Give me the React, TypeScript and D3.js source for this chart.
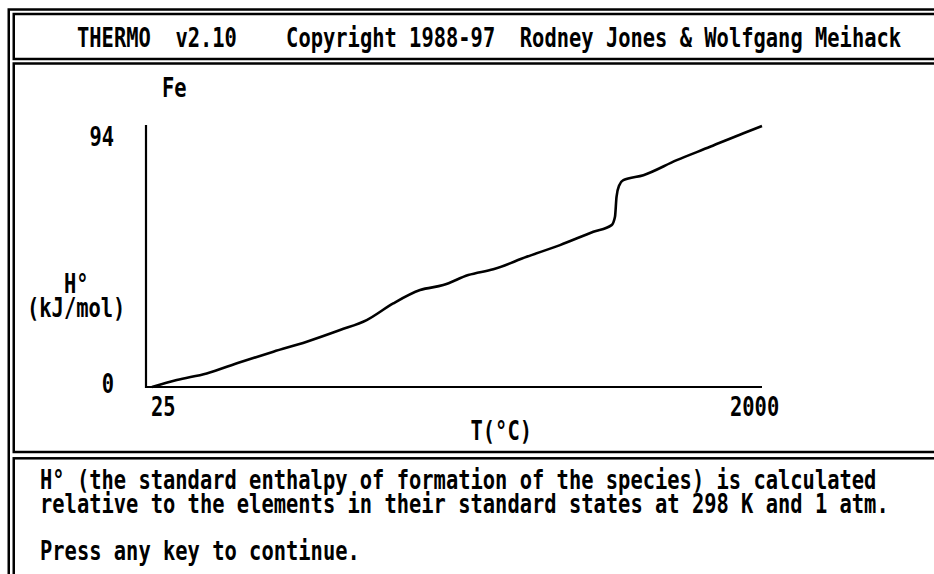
import React from "react";
import * as d3 from "d3";

// Fe enthalpy curve
const tempC = [25, 105, 202, 310, 418, 526, 634, 720, 806, 893, 968, 1049, 1130, 1238, 1346, 1454, 1513, 1524, 1529, 1538, 1551, 1616, 1724, 1832, 1940, 2000];
const enthalpy = [0, 2.5, 4.9, 8.9, 12.7, 16.3, 20.5, 24.1, 30.1, 34.9, 36.7, 40.3, 42.4, 46.9, 51.1, 55.9, 58.3, 61.3, 68.5, 72.7, 74.5, 76.3, 81.7, 86.5, 91.4, 94];
const xTickValues = [25, 2000];
const yTickValues = [0, 94];

const headerText = "THERMO  v2.10    Copyright 1988-97  Rodney Jones & Wolfgang Meihack";
const speciesName = "Fe";
const yLabel = ["H°", "(kJ/mol)"];
const xLabel = "T(°C)";
const noteLines = [
    "H° (the standard enthalpy of formation of the species) is calculated",
    "relative to the elements in their standard states at 298 K and 1 atm.",
];
const promptText = "Press any key to continue.";

const PITCH = 12.3;
const FONT = "'DejaVu Sans Mono', 'Liberation Mono', monospace";
// DejaVu Sans Mono advance is 0.602em, so this size gives the DOS cell width;
// the glyphs are then stretched upward to the tall EGA shape
const FONT_SIZE = PITCH / 0.602;
const STRETCH = 1.3;

const Dos = ({ x, y, text }: { x: number; y: number; text: string }) => (
    <text
        transform={`translate(${x},${y}) scale(1,${STRETCH})`}
        x={0}
        y={0}
        textLength={text.length * PITCH}
        lengthAdjust="spacingAndGlyphs"
        fontFamily={FONT}
        fontWeight="bold"
        fontSize={FONT_SIZE}
        fill="#000"
        style={{ whiteSpace: "pre" }}
    >
        {text}
    </text>
);

export default function App() {
    const width = 934;
    const height = 574;

    const xScale = d3.scaleLinear().domain([25, 2000]).range([152, 762]);
    const yScale = d3.scaleLinear().domain([0, 94]).range([387, 126]);

    const points: [number, number][] = tempC.map((t, i) => [t, enthalpy[i]]);
    const line = d3
        .line<[number, number]>()
        .x(d => xScale(d[0]))
        .y(d => yScale(d[1]))
        .curve(d3.curveMonotoneX);

    const axisX = 146;
    const border = 2.5;

    return (
        <svg
            width={width}
            height={height}
            viewBox={`0 0 ${width} ${height}`}
            style={{ position: "absolute", left: 0, top: 0, background: "#fff" }}
        >
            <rect x={0} y={0} width={width} height={height} fill="#fff" />

            {/* outer frame, runs off the right and bottom */}
            <rect x={8.75} y={9.5} width={1000} height={700} fill="none" stroke="#000" strokeWidth={border} />
            {/* header box */}
            <rect x={13.75} y={14} width={1000} height={45} fill="none" stroke="#000" strokeWidth={border} />
            {/* graph box */}
            <rect x={13.75} y={63.5} width={1000} height={388.5} fill="none" stroke="#000" strokeWidth={border} />
            {/* note box */}
            <rect x={13.75} y={458.3} width={1000} height={300} fill="none" stroke="#000" strokeWidth={border} />

            <Dos x={77} y={47} text={headerText} />

            {/* species */}
            <Dos x={162} y={97} text={speciesName} />

            {/* axes */}
            <line x1={axisX} x2={axisX} y1={125} y2={yScale(0) + 1} stroke="#000" strokeWidth={2.2} />
            <line x1={axisX} x2={xScale(2000)} y1={yScale(0)} y2={yScale(0)} stroke="#000" strokeWidth={2.2} />

            {/* y tick labels, right aligned to the axis label column */}
            {yTickValues.map((v, i) => {
                const s = String(v);
                const right = 114;
                const y = i === 0 ? yScale(v) + 6 : yScale(v) + 20;
                return <Dos key={i} x={right - s.length * PITCH} y={y} text={s} />;
            })}

            {/* x tick labels */}
            {xTickValues.map((v, i) => (
                <Dos key={i} x={i === 0 ? xScale(v) - 1 : xScale(v) - 32} y={yScale(0) + 28.5} text={String(v)} />
            ))}

            {/* axis titles */}
            <Dos x={64} y={293} text={yLabel[0]} />
            <Dos x={27} y={316.5} text={yLabel[1]} />
            <Dos x={470.5} y={440} text={xLabel} />

            {/* curve */}
            <path d={line(points) || ""} fill="none" stroke="#000" strokeWidth={2.6} strokeLinejoin="round" />

            {/* note */}
            {noteLines.map((s, i) => (
                <Dos key={i} x={40} y={489 + i * 23.5} text={s} />
            ))}
            <Dos x={40} y={559.5} text={promptText} />
        </svg>
    );
}
